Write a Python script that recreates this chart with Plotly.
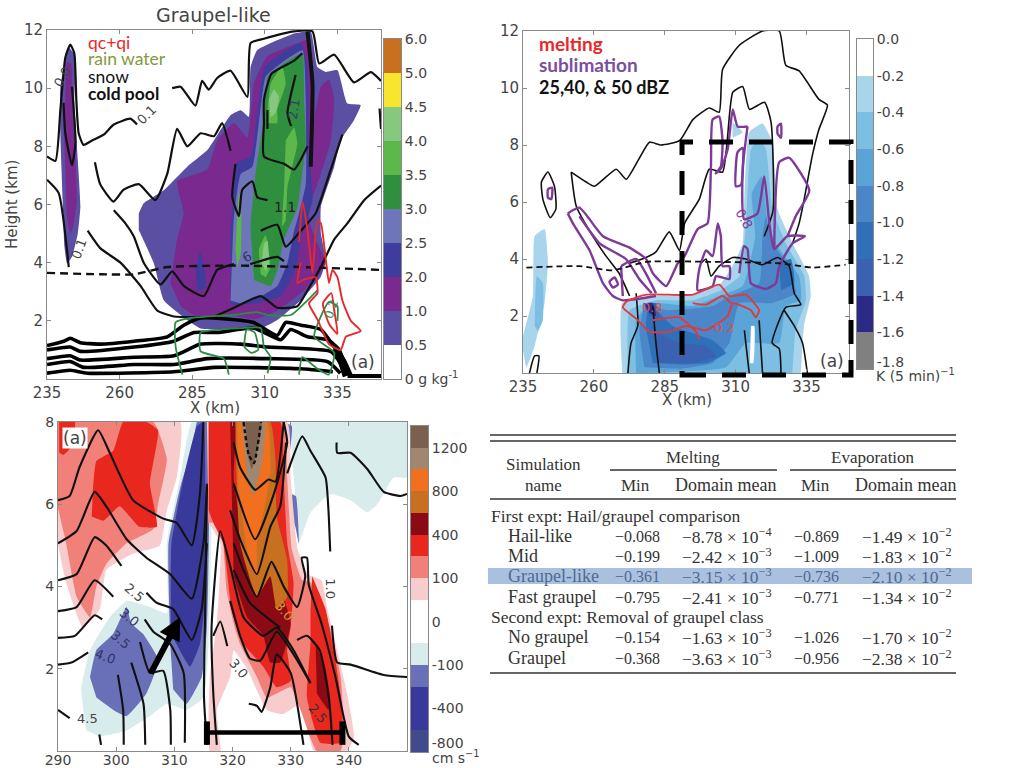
import plotly.graph_objects as go

# ---------- Panel A (X km, height km) ----------
a_col_05 = [(242.5,11.42),(244.8,11.08),(244.4,9.59),(245.6,7.53),(246.5,5.92),(245.6,5.0),(243.6,4.2),(241.9,3.97),(241,4.55),(240.4,6.15),(239.6,8.44),(239.6,10.05),(241.3,10.96)]
a_col_10 = [(241.3,9.59),(241.9,10.9),(243.3,10.85),(243.6,9.59),(244.8,7.53),(245.3,6.15),(244,5.23),(243,5.0),(241.9,5.58),(241.3,7.3),(240.7,8.67)]
a_main_05 = [(266.6,5.69),(268.3,6.04),(275.2,6.49),(283.3,7.3),(290.2,7.87),(298.2,9.07),(301.7,9.24),(304.5,9.02),(305.1,10.73),(307.4,11.31),(320.1,11.88),(325.8,11.94),(328.1,10.73),(331,10.56),(335,10.62),(338.4,9.47),(343,9.42),(340.7,8.9),(336.1,8.21),(333.9,7.3),(329.3,5.92),(329.3,5.0),(331,4.09),(329.3,3.52),(322.4,2.71),(314.3,2.03),(308.6,1.74),(287.9,1.74),(283.3,2.03),(275.2,2.71),(271.8,3.97),(266.6,5.12)]
a_main_10 = [(277.5,3.3),(279.8,4.8),(282.1,5.7),(279.8,6.8),(290.2,7.2),(293.6,8.2),(299.4,8.8),(304,8.3),(306.3,10.2),(310.9,11.1),(320.1,11.5),(324.7,11.65),(325.8,10.7),(326.4,8.7),(329.3,10.05),(332.1,10.3),(333.9,9.6),(332.7,8.2),(329.3,7.05),(325.8,6.05),(325.2,5.45),(327.5,4.8),(331,4),(328.1,3.5),(322.4,2.95),(314.3,2.35),(306.3,2.05),(298.2,2.2),(287.9,2.05),(281,2.5)]
a_blob_20 = [(286.2,3.8),(287.7,4.4),(289.3,3.75),(289.7,3.15),(286.8,3)]
a_main_20 = [(298.2,2.55),(298.2,5),(299.4,6.6),(299.9,7.4),(305.1,7.65),(309.7,10.7),(314.3,11.1),(322.4,11.55),(324.7,10.75),(325.2,7.85),(326.4,6.15),(322.9,5),(320.1,3.65),(315.5,2.85),(307.4,2.6)]
a_main_25 = [(298.2,2.7),(299.4,5.6),(301.7,7.05),(305.7,7.3),(310.3,10.4),(315.5,10.85),(323,11.3),(324.1,9.6),(324.1,6.7),(321.8,5.7),(320.1,5.1),(317.8,4),(314.3,3.2),(308.6,2.85),(301.7,2.6)]
a_main_30 = [(305.7,4.3),(305.1,5.25),(306.8,7.05),(309.7,9),(310.9,10.4),(316.6,10.85),(322.9,11.2),(323.5,9.6),(324.1,8.2),(321.2,5.9),(316.6,4.8),(314.3,3.75),(312,3.2),(306.3,3.4)]
a_g35_1 = [(310.9,9.15),(312,10.15),(316,10.75),(317.2,10.15),(314.3,9.25),(314.3,8.8),(310.9,8.8)]
a_g35_2 = [(317.2,8.2),(320.1,8.65),(321.2,8.1),(317.8,6.6),(317.2,5.45),(316,5.25),(316.6,6.5)]
a_g35_3 = [(308.6,3.6),(308,4.45),(310.3,4.95),(311.4,4.3),(312,3.85),(310.3,3.5)]
a_g35_4 = [(299.9,4.45),(301.1,6.4),(301.9,5.6),(301.7,4.3),(300.5,3.85)]
a_g40_1 = [(311.4,9.6),(313.1,9.95),(314.9,9.7),(313.7,9.15),(312,9)]
a_g40_2 = [(309,4),(309.7,4.65),(310.9,4.75),(311.4,4),(310.3,3.7)]

a_snow = [
 [(235,7.65),(237.9,7.5),(239.6,9.25),(241.3,11.05),(243,11.5),(244.4,11.2),(245.1,9.6),(245.9,8.45),(247.6,8.05),(250.5,8.2),(254.5,8.4),(258,8.75),(263.7,8.95),(266,8.75)],
 [(278.1,10),(281,10.05),(286.1,9.4),(288.4,10.25),(290.7,9.95),(293.6,10.35),(298.2,10.6),(304,9.7),(305.1,11.55),(309.7,11.7),(320.1,11.95),(326.4,11.95),(328.7,10.85),(333.9,11.15),(340.7,10.2),(346.5,10.55),(350,10.25)],
 [(235,6.85),(239,6.4),(242.5,3.85)],
 [(249,5.1),(253.3,4.5),(260.3,4),(267.2,3.2),(273,2.35),(278.7,2.15),(292.5,2.15),(299.4,2.45),(308.6,2.85),(314.3,2.45),(321.2,2.5),(324.7,3.05),(329.3,3.85),(333.9,4.8),(338.4,5.35),(344.2,6.15),(350,6.65)],
 [(251.5,7.45),(253.3,6.7),(257.9,6.1),(261.3,6.5),(266.6,6.7),(272.3,6.15),(276.4,7.05),(279.8,8.6),(283.3,8),(287.9,8.45),(292.5,8.35),(295.3,8.8),(298.2,7.85)],
 [(336.7,8.4),(332.7,7.2),(327.5,5.7),(322.4,5.1),(317.2,4.55),(314.3,5.3),(308.6,5.1)],
 [(258,5.8),(262,5.35),(264.9,4.9),(268.3,4),(274.1,3.25),(278.1,3.7),(282.1,3.2),(289,2.85),(293.6,3.75),(299.4,3.95)],
 [(305,3.95),(314.3,4.2),(316.6,4.05)],
 [(299.9,7.4),(298.8,6.25),(301.1,5.6),(302.2,6.5),(305.7,6.8),(307.4,6.25),(310.9,6.15)],
 [(322.9,11.2),(320.1,10.95),(312.3,10.5),(309.7,9.6),(309.7,8.8),(309.7,7.65),(316.6,7.4),(320.1,7.2),(324.7,8)],
 [(320.6,10.45),(317.8,9.15),(319,8.7)],
 [(310.9,9.25),(310.9,8.6)],
 [(240.7,9.5),(241.3,8.45),(243.6,7.35),(244.8,8.1),(243.6,10.05)],
 [(349.5,9.3),(350,8.6)],
]
a_core_edge = [(324.7,11.95),(326.4,10.15),(325.8,7.3)]
a_pool = [
 [(235,1.15),(240.8,1.3),(243,1.4),(246.5,1.25),(253.4,1.2),(265,1.3),(276.4,1.45),(282.1,1.85),(287.9,2.1),(305.9,1.95),(314.3,1.5),(317.2,1.95),(322.4,1.85),(329.3,1.7),(333.9,1.1),(337.3,0.65),(339.6,0.15)],
 [(235,1),(243,1.1),(246.5,0.95),(265,1.1),(278.7,1.3),(285.6,1.6),(293.6,1.6),(306.3,1.75),(315.5,1.35),(318.9,1.7),(324.7,1.45),(331.6,1.35),(335.6,1),(338.4,0.2)],
 [(235,0.7),(243,0.8),(246.5,0.65),(265,0.75),(278.7,0.8),(287.9,1.2),(301.7,1.2),(310.9,1.1),(322.4,1.05),(332.7,0.95),(336,0.55),(337.3,0.15)],
 [(235,0.5),(243,0.6),(247.6,0.4),(265,0.5),(278.7,0.5),(290.2,0.7),(310.9,0.7),(331.6,0.6),(336,0.2)],
 [(235,0.2),(243,0.3),(248.8,0.2),(278.7,0.25),(292.5,0.4),(322.4,0.35),(333.4,0.25)],
]
a_pool_front = [(334.2,1.05),(336.5,0.6),(338.2,0.1)]
a_pool_floor = [(338.5,0.1),(350,0.1)]
a_dash = [(235,3.65),(253.4,3.6),(265,3.6),(276.4,3.85),(299.4,3.9),(322.4,3.85),(350,3.75)]
a_rain = [
 [(281.6,0.15),(279.3,1.1),(279.3,1.95),(284.5,2.1),(290.2,2.15),(299.4,2.2),(307.4,2.3),(310.9,2.2),(319,2.2),(323.6,2.6),(328.1,3.05)],
 [(297.6,0.15),(295.9,0.7),(287.9,0.95),(287.9,1.6),(294.8,1.7),(301.7,1.75),(308.6,1.75),(309.7,1.1),(312,0.75),(310.9,0.2)],
 [(303,1.1),(305.4,0.9),(307.7,1),(306.5,1.6),(303.8,1.7),(303,1.1)],
 [(321.8,0.15),(322.9,0.75),(328.1,0.35),(332,0.15),(333.9,0.9),(327,1.45),(329.3,2.15),(332.1,2.65),(335,2.5),(335,2)],
]
a_cloud = [
 [(321.8,4.7),(323,6.1),(324.7,5.1),(326.4,3.65),(328.1,5.45),(329.3,5.35),(331,4.1),(332.1,3.3),(333.3,3.75),(335,3.5),(336.7,2.7),(339.6,2),(343,1.65),(337.9,1.45),(336.1,1),(332.1,1.2),(328.1,2.05),(325.2,2.6),(328.1,2.95),(327.5,3.5),(323,3.4),(321.2,3.3),(322.4,4)],
 [(330,2.6),(332.9,2.95),(333.9,2.35),(335,1.55),(332.1,1.9),(330,2.6)],
]
a_levels = ["#ffffff","#5a4fa2","#7a2a8e","#3e3d9e","#6f75b9","#2f8f3e","#5cb84a","#86c87e","#f8e62e","#c8701f"]
a_cbar_ticks = ["0 g kg<sup>-1</sup>","0.5","1.0","2.0","2.5","3.0","3.5","4.0","4.5","5.0","6.0"]
a_xticks = [235,260,285,310,335]
a_yticks = [2,4,6,8,10,12]

# ---------- Panel B ----------
b_left_02 = [(235,1.3),(238.5,2.7),(239.1,4.8),(242.6,5.05),(243.8,3.85),(242.6,2.45),(239.1,0.95),(236.2,0.2),(235,0.8)]
b_left_04 = [(239.1,1.65),(239.9,3.4),(242,3.15),(242,1.85),(240.3,1.45)]
b_top_02 = [(308.9,8.8),(312.5,8.45),(308.9,8.25)]
b_main_02 = [(270,0),(270,2.45),(280.8,2.7),(294.9,2.75),(304.8,3.15),(308.9,3.75),(312.5,4.55),(313.1,6.2),(314.8,8.45),(319.5,8.75),(323,8.1),(324.8,5.75),(330.1,4.55),(335.9,3.4),(336.5,2.7),(334.1,1.65),(333,0)]
b_main_04 = [(272,0),(272.6,2.2),(281.9,2.55),(294.9,2.55),(304.8,2.9),(311.4,3.4),(313.6,5.15),(315.4,7.85),(318.3,8.2),(320.7,7.85),(323,5.75),(327.7,4.55),(334.2,3.4),(334.8,2.55),(331.2,1.5),(330,0)]
b_main_06 = [(274.9,0),(274.9,1.85),(279.6,2.45),(294.9,2.35),(304.2,2.7),(312.5,3.05),(316.9,4.8),(315.7,6.3),(319.2,6.9),(321.5,5.15),(325.4,4.35),(332.4,3.4),(333,2.55),(327.7,2.35),(325.4,1.05),(313.6,1.05),(306.6,0.2),(278.4,0)]
b_main_08 = [(277.8,0.2),(276.1,1.5),(278.4,2.45),(285.5,2.2),(301.9,2.35),(307.8,2.7),(318.3,3.15),(319.5,4.8),(320.7,5.5),(323,4.55),(328.9,3.75),(331.2,2.8),(322.4,2.45),(311.3,2.45),(307.8,1.05),(301.9,0.35),(290.8,0.15)]
b_main_10 = [(280.8,0.35),(278.4,1.65),(279.6,2.4),(287.8,1.65),(301.9,1.15),(306.6,0.7),(300,0.35),(290.8,0.3)]
b_right_10 = [(325.4,3.85),(329.5,4),(330.7,3.15),(326,2.9)]
b_main_12 = [(283.1,0.35),(281.9,1.4),(290.2,1.05),(299.6,0.95),(303.1,0.6),(294.9,0.35)]
b_peak_12 = [(277.3,2.45),(281.9,2.45),(283.1,1.85),(279.6,2)]
b_peak_14 = [(277.8,2.45),(280.8,2.45),(281.9,2),(279.6,2.1)]
b_slit = [(315.4,1.65),(316.6,1.65),(316.2,0.35),(315,0.35)]
b_dbz = [
 [(243.8,7.05),(241.5,6.7),(242,6.1),(244.6,5.45),(246.6,5.75),(246.1,6.55),(243.8,7.05)],
 [(252,7.05),(253.8,5.85),(259.6,4.8),(264.3,4.1),(268.9,3.5),(272.6,2.7)],
 [(252,7.05),(257.3,6.7),(260.2,6.55),(267.9,7.15),(271.4,6.8),(276.1,7.55),(279.6,8.1),(283.7,8),(290.2,8.15),(295,8.9),(300.7,9.3),(304.2,9.15),(305.4,10.65),(311.3,11.5),(319.5,12),(325.4,12),(327.7,10.8),(332.4,10.6),(339.4,9.6),(342.4,9.4),(339.4,8.55),(337,7.6),(334.2,6.1),(332.4,5.25),(330.1,4.55)],
 [(272.6,3.85),(278.4,4.05),(281.9,4.25),(286.6,4.95),(290.2,4.3),(292,5.25),(297.2,6.1),(300.7,7.15),(305.4,7.05),(309,9.85),(312.5,10.05),(314.9,9.25),(320.2,9.5),(322.5,8.8),(323.2,5.7),(320.1,4.8)],
 [(297.8,3.85),(299.6,4),(301.3,3.4),(304.2,3.75),(309,4.05),(313.6,4),(319.5,3.8),(324.8,4.05),(328.9,3.75),(330.7,2.8),(333,2.4),(327.7,2.3),(322.9,1.05),(325.4,0.85),(326,0)],
 [(280.8,2.35),(281.9,1.05),(283.1,0)],
 [(274.9,2.8),(275.5,1.65),(273.1,1.05),(272,0)],
 [(313.1,1.5),(313.6,1.05),(314.8,0)],
 [(318.3,1.85),(319.5,0)],
 [(327.1,2.2),(330.7,1.65),(333.6,1.05),(335.3,0)],
 [(237.3,0),(239.1,0.6),(240.6,0.6),(239.9,0)],
]
b_sub = [
 [(250.8,5.6),(254.9,5.8),(263.2,4.8),(272.6,4.4),(278.4,4),(280.8,3.5),(285.5,3.05),(289.6,3.85),(292,4.1),(296.6,5.05),(300.1,5.25),(301.3,7.25),(301.9,8.9),(304.2,9),(305.4,8.1),(304.8,7.25),(303,7),(305,7.2),(307.2,7.85),(309,9.25),(310.7,8.65),(314.2,8.65)],
 [(250.8,5.6),(252.6,5.25),(258.5,4.3),(263.2,3.15),(266.7,2.7),(270.2,2.55),(281.9,2.7)],
 [(254.9,5.5),(262,4.55),(271.3,4),(276,3.3),(280.4,2.8)],
 [(269.6,3.75),(270.2,2.7)],
 [(269.6,3.75),(274.9,4),(281.9,2.8)],
 [(265.5,3.2),(267.3,3.35),(268.5,3.1),(266.7,3),(265.5,3.2)],
 [(296.6,2.9),(297.2,3.65),(299.6,4.3),(301.9,4.1),(303.7,5.25),(304.8,4.8),(305.4,3.75),(307.8,3.75),(307.8,3.3),(303.1,3.4),(301.9,3.05),(296.6,2.9)],
 [(311.3,3.5),(313,4.45),(314.2,4.35),(315.4,3.15),(320.7,2.95),(324.2,3.15),(325.4,3.75),(330.1,4.55),(334.5,4.8),(328.3,4.8),(323.6,4.35),(321.9,5.25),(320.1,6.9),(317.7,5.6),(313,5.4),(312.5,7.15),(314.2,8.65)],
 [(323.6,4.35),(325.4,7.4),(328.9,7.55),(336,6.4),(331.2,5.5),(328.3,4.8)],
 [(310.7,7.75),(312.5,7.9),(311.9,6.6),(310.1,6.55),(310.7,7.75)],
 [(324.8,8.65),(326,8.75),(326,8.25),(324.8,8.4),(324.8,8.65)],
 [(243.8,6.45),(245.3,6.5),(245,6.1),(243.8,6.15),(243.8,6.45)],
]
b_melt = [
 [(270.2,2.3),(271.4,2.5),(278.4,2.75),(294.9,2.75),(304.2,3.1),(307.8,2.7),(313.6,2.75),(318.3,2.2),(317.1,1.95),(315.4,2.2),(309,2.45),(307.2,2),(299.5,1.5),(292.5,1.65),(286.6,1.45),(279.6,1.45),(275,1.9),(270.2,2.3)],
 [(280.8,1.85),(290.2,1.95),(296,1.45),(297.2,1.2)],
 [(294.9,2.45),(299.6,2.4),(305.4,2.7),(308.3,2.45)],
]
b_dash = [(236.2,3.7),(254.9,3.75),(266.7,3.6),(278.4,3.9),(301.9,3.9),(325.4,3.85),(337.1,3.7),(348.8,3.8)]
b_levels = ["#808080","#2b2a86","#3a62b0","#2f70b8","#4a86c8","#5ba4d8","#7cbfe3","#a8d5ec","#ffffff"]
b_cbar_ticks = ["-1.8","-1.6","-1.4","-1.2","-1.0","-0.8","-0.6","-0.4","-0.2","0.0"]

# ---------- Panel C ----------
c_teal_1 = [(330,8),(350,8),(350,6.65),(347.7,6.65),(344.9,6),(343.2,5.8),(340.3,6.1),(336.8,6.25),(333.4,5.8),(331.4,5.05),(330.8,6.2),(330.2,7.15)]
c_teal_2 = [(294.9,0.5),(294,1.5),(295.5,2.45),(298.9,3.25),(301.8,3.65),(305.8,3.5),(308.7,3.35),(308.7,5.05),(311,6.65),(313,8),(315.9,8),(315.9,2.6),(315,1.3),(312.1,1),(308.7,1.15),(305.8,0.85),(301.8,0.5),(297.2,0.35)]
c_blue_1 = [(295.5,1.8),(296.6,2.45),(299.5,2.85),(301.8,3.5),(302.6,3.1),(304.6,2.85),(307,2.3),(307,2.05),(305.2,1.4),(301.8,0.85),(299.5,1),(296.6,1.3)]
c_blue_2 = [(309.3,2.6),(309,5.05),(311,6.4),(313.3,7.5),(313.9,8),(315.6,8),(315.6,3),(314.7,1.8),(312.1,1.15),(309.8,1.5)]
c_blue_3 = [(330,6.25),(330.9,6.2),(331.4,5.05),(330.8,5.45),(329.8,5.85)]
c_blue_4 = [(328.8,8),(330.2,7.9),(329.4,6.85),(328.7,7.45)]
c_dark_1 = [(309.4,3),(309.5,5.05),(311.6,6.65),(313.9,7.9),(315,8),(315.1,3.45),(314.4,2.6),(312.7,2.05),(310,2.7)]
c_pink_1 = [(290,6.2),(290,5.05),(291.4,4.1),(294.3,3),(297.2,3.45),(298.3,4.4),(302.9,4.8),(307.5,5),(308.7,5.85),(310.4,6.65),(311,8),(290,8)]
c_rose_1 = [(290,8),(306.4,8),(308.7,7.1),(307.2,6),(306.4,5.4),(301.8,5.05),(298.3,4.55),(296.6,4),(295.5,3.25),(293.2,3.75),(291.4,5.05),(290,5.9)]
c_red_1 = [(290.2,8),(292.9,8),(292.3,7.4),(290.9,7.2),(290.2,7.25)]
c_red_2 = [(295.8,5.7),(297.8,5.6),(300.6,5.95),(304,5.45),(307,5.45),(305.8,6.5),(307.2,7.8),(305.2,8),(301.2,8),(299.5,7.3),(296.6,7.05),(296,6.35)]
c_pink_2 = [(315.6,8),(329.4,8),(330,6.65),(331.2,4.9),(333,4.3),(335.3,4.15),(336.3,3.45),(338,2.45),(339.7,1.4),(340.9,0.35),(339.7,0),(334,0),(331.7,1.15),(328.7,0.9),(325.9,1),(322.5,2),(320.2,2.45),(319.6,1.8),(317.3,1),(317.9,0),(316.1,0),(316.1,1.8),(317.3,3.1),(317.9,5.05),(315.9,5.55)]
c_rose_2 = [(315.9,8),(328.8,8),(329.4,6.65),(330.2,4.9),(332,4.15),(333.4,4.1),(336.8,3),(338.6,1.8),(339.1,0.6),(338.6,0),(334.5,0),(331.7,1),(330,1.55),(325.9,1.3),(324.2,1.8),(321.3,2.6),(320.2,3.1),(319,3.9),(317.9,5.55),(315.9,5.55)]
c_red_3 = [(315.9,8),(328.2,8),(328.8,6.65),(329.4,5.05),(330.5,4.1),(330,3),(329.4,2.45),(330,1.7),(327.6,1.55),(325.3,2.05),(321.9,2.6),(319.9,3.4),(318.4,5.05),(316.7,5.55),(315.9,5.85)]
c_red_4 = [(333.7,4.25),(336,3.45),(337.7,2.2),(338.9,1),(338.6,0.2),(335.1,0.2),(332.8,1.3),(333.4,2.6),(333.4,3.4)]
c_maroon_1 = [(319.6,8),(320.5,8),(320.2,6.65),(321.3,5.7),(324.8,5.05),(326.5,5.05),(328.8,3.75),(330,3.1),(329,2.45),(328.2,2.15),(326.5,2.15),(325.3,2.8),(322.5,3.25),(320.2,4.25)]
c_maroon_2 = [(334.3,2.6),(336,2),(336.8,1.25),(336.5,1),(334.5,1.4)]
c_orange_d = [(320.5,8),(326.5,8),(327.4,7.05),(327.6,5.7),(329.4,4.65),(329.4,3.75),(327.6,3.45),(326.5,4.25),(324.2,3.75),(321.3,5.05),(320.7,6.65)]
c_orange = [(320.8,8),(326,8),(326.5,6.85),(325.9,6.2),(324.2,5.05),(324.2,4.25),(322.5,4.9),(321,6.5)]
c_tan = [(321.6,8),(325.6,8),(325.1,7.05),(323.6,6.2),(322.5,6.65)]
c_brown = [(322.2,8),(325,8),(324.2,7.25),(323.3,6.85),(322.5,7.25)]
c_lines = [
 [(290,6.1),(292,6.2),(293.7,6.9),(296.9,7.8),(298.9,7.25),(302.9,6.1),(308.1,5.65),(310.4,5.55),(313,5),(314.4,6.25),(315,8)],
 [(290,5.05),(293.2,5.35),(296.3,6.3),(298.3,5.95),(301.8,5.15),(305.2,4.7),(309.3,4.3),(313,3.7),(315,5.05),(315.6,6.45)],
 [(290,4.15),(293.2,4.3),(296.3,5.2),(298.3,5),(300.9,4.5)],
 [(305.2,3.85),(307,3.6),(309.8,3.45),(313,2.7),(314.7,3.45),(315.6,5.05)],
 [(290,3.4),(293.2,3.5),(296.3,4.15),(299.5,3.75)],
 [(290,2.75),(292.9,2.8),(296.3,3.3),(297.6,3.2)],
 [(304.9,3.2),(306.4,2.9),(309.3,2.6),(311.6,1.9),(311.8,0.2)],
 [(290,2.1),(292.3,2.15),(295.2,2.4)],
 [(304.1,2.65),(305.8,1.9),(308.1,1.95),(309.3,1),(309.4,0.15)],
 [(290,1),(292,0.8)],
 [(302.6,2.15),(304.7,1.15),(305,0.15)],
 [(300.3,1.85),(301.2,1),(301.3,0.15)],
 [(297.1,0.4),(297.4,0.15)],
 [(315.6,6.5),(315.3,3.45),(315.1,1.3),(315.6,0.15)],
 [(317.3,0.15),(316.7,1.4),(316.4,3),(317.9,5.35),(319.6,4.5),(321.9,3.25),(325.3,2.8),(327.6,3),(330.5,2.45),(333.4,1.65)],
 [(316.7,2.8),(317.9,3.15),(319.1,2.55)],
 [(322.8,1.15),(324.2,1.1),(325,0.95),(326.5,1.55),(327.6,2.35),(330,1.9),(332.2,0.15)],
 [(320.2,7.5),(321.3,6.9),(323.9,6.35),(326.2,6.6),(327.4,6.55),(328.8,8)],
 [(320.2,6.5),(323.9,5.15),(327.1,6.25),(329.4,7.5),(328.8,8)],
 [(319.6,5.85),(321.3,5.15),(324.2,4.3),(326.5,5.45),(328.2,5.95),(329.2,7.5)],
 [(320.2,5.05),(321.9,4.4),(324.2,3.75),(326.7,4.6),(328.8,4),(331.1,3.5),(332.5,4.25),(331.9,4.7),(332.8,4.7),(333.1,4.05),(335.3,3.1),(337.7,1.8),(340,0.35),(341.7,0.15)],
 [(320.2,4.4),(323,3.6),(325.9,3.25),(328.2,3)],
 [(319.6,3.65),(321.3,2.8),(323,2.25),(324.8,2.2),(327.6,2.9),(330.5,2.35),(333.4,1.65)],
 [(329.4,6.75),(332,7.65),(333.4,7.3),(336,6.65),(336.5,5.85),(336.8,4.85)],
 [(337.9,7.5),(338,7.25),(340.3,7.25),(343.2,6.85),(346,6.3),(348.9,6.2),(350,6.25)],
 [(337.1,3.05),(338,2.15),(340.3,2.1),(346,1.85),(350,1.8)],
 [(331.1,2.7),(332.8,2.8),(335,2.45),(336.6,1.25),(337.2,0.15)],
]
c_dotted = [[(321.9,8),(322.8,7.2),(323.7,7),(324.9,8)]]
c_bar = [(315.6,0.45),(338.9,0.45)]
c_caps = [[(315.6,0.15),(315.6,0.72)],[(338.9,0.15),(338.9,0.72)]]
c_arrow = [(305.8,1.85),(311,3.25)]
c_levels = ["#404a8c","#39399c","#39399c","#6a70b8","#d8ecec","#ffffff","#ffffff","#f8cccc","#f08078","#e8281e","#8b0a14","#c87020","#f07020","#a08870","#7b6050"]
c_cbar_vals = [0.4,2,4,6,8,10,12,14]
c_cbar_ticks = ["-800","-400","-100","0","100","400","800","1200"]
c_xticks = [290,300,310,320,330,340]
c_yticks = [2,4,6,8]

# ---------- Table ----------
t_names = ["Hail-like","Mid","Graupel-like","Fast graupel","No graupel","Graupel"]
t_melt_min = ["−0.068","−0.199","−0.361","−0.795","−0.154","−0.368"]
t_melt_mean = ["−8.78 × 10<sup>−4</sup>","−2.42 × 10<sup>−3</sup>","−3.15 × 10<sup>−3</sup>","−2.41 × 10<sup>−3</sup>","−1.63 × 10<sup>−3</sup>","−3.63 × 10<sup>−3</sup>"]
t_evap_min = ["−0.869","−1.009","−0.736","−0.771","−1.026","−0.956"]
t_evap_mean = ["−1.49 × 10<sup>−2</sup>","−1.83 × 10<sup>−2</sup>","−2.10 × 10<sup>−2</sup>","−1.34 × 10<sup>−2</sup>","−1.70 × 10<sup>−2</sup>","−2.38 × 10<sup>−2</sup>"]
t_row_px = [536,556,576,597,637,658]

W, H = 1024, 768
TICK = "#444444"
FRAME = "#8a8a8a"
MPL = "DejaVu Sans"
fig = go.Figure()

def px_x(p): return p / W
def px_y(p): return 1 - p / H

def poly(pts, color, ax):
    fig.add_trace(go.Scatter(x=[p[0] for p in pts], y=[p[1] for p in pts], mode="lines", fill="toself",
        fillcolor=color, line=dict(width=0, color=color, shape="spline", smoothing=0.4),
        hoverinfo="skip", showlegend=False, xaxis="x"+ax, yaxis="y"+ax))

def line(pts, color, width, ax, dash=None, smoothing=0.5):
    fig.add_trace(go.Scatter(x=[p[0] for p in pts], y=[p[1] for p in pts], mode="lines",
        line=dict(width=width, color=color, shape="spline", smoothing=smoothing, dash=dash),
        hoverinfo="skip", showlegend=False, xaxis="x"+ax, yaxis="y"+ax))

# Panel A marks
L = a_levels
for pts, c in [(a_col_05,L[1]),(a_col_10,L[2]),(a_main_05,L[1]),(a_main_10,L[2]),(a_blob_20,L[3]),(a_main_20,L[3]),
               (a_main_25,L[4]),(a_main_30,L[5]),(a_g35_1,L[6]),(a_g35_2,L[6]),(a_g35_3,L[6]),(a_g35_4,L[6]),(a_g40_1,L[7]),(a_g40_2,L[7])]:
    poly(pts, c, "")
for s in a_snow: line(s, "#111111", 2.2, "")
line(a_core_edge, "#111111", 4, "")
for s in a_pool: line(s, "#000000", 3.6, "")
line(a_pool_front, "#000000", 8, "")
line(a_pool_floor, "#000000", 4, "", smoothing=0)
line(a_dash, "#111111", 2.4, "", dash="8px,5px")
for s in a_rain: line(s, "#2e8b45", 1.8, "")
for s in a_cloud: line(s, "#e8282a", 1.9, "")

# Panel B marks
B = b_levels[::-1]
for pts, c in [(b_left_02,B[1]),(b_left_04,B[2]),(b_top_02,B[1]),(b_main_02,B[1]),(b_main_04,B[2]),(b_main_06,B[3]),(b_main_08,B[4]),
               (b_main_10,B[5]),(b_right_10,B[5]),(b_main_12,B[6]),(b_peak_12,B[6]),(b_peak_14,B[7]),(b_slit,"#ffffff")]:
    poly(pts, c, "2")
for s in b_dbz: line(s, "#111111", 1.6, "2")
for s in b_sub: line(s, "#7e3a96", 2.4, "2")
for s in b_melt: line(s, "#e0393e", 1.9, "2")
line(b_dash, "#111111", 1.8, "2", dash="6px,4px")

# Panel C marks
C = c_levels
for pts, c in [(c_teal_1,C[4]),(c_teal_2,C[4]),(c_blue_1,C[3]),(c_blue_2,C[3]),(c_blue_3,C[3]),(c_blue_4,C[3]),(c_dark_1,C[1]),
               (c_pink_1,C[7]),(c_rose_1,C[8]),(c_red_1,C[9]),(c_red_2,C[9]),(c_pink_2,C[7]),(c_rose_2,C[8]),(c_red_3,C[9]),(c_red_4,C[9]),
               (c_maroon_1,C[10]),(c_maroon_2,C[10]),(c_orange_d,C[11]),(c_orange,C[12]),(c_tan,C[13]),(c_brown,C[14])]:
    poly(pts, c, "3")
for s in c_lines: line(s, "#111111", 2.1, "3")
for s in c_dotted: line(s, "#111111", 2.4, "3", dash="4px,3px")
line(c_bar, "#000000", 4.5, "3", smoothing=0)
for s in c_caps: line(s, "#000000", 6, "3", smoothing=0)

# Colour bars
for levels, ax in [(a_levels,"4"),(b_levels,"5"),(c_levels,"6")]:
    fig.add_trace(go.Bar(x=[0]*len(levels), y=[1]*len(levels), base=list(range(len(levels))), width=1,
        marker=dict(color=levels, line=dict(width=0)), hoverinfo="skip", showlegend=False, xaxis="x"+ax, yaxis="y"+ax))

def main_axes(xpx, ypx, xr, yr, xt, yt, ysz=15):
    common = dict(showgrid=False, zeroline=False, showline=True, linecolor=FRAME, linewidth=1, mirror="ticks", automargin=False,
                  ticks="inside", ticklen=4, tickcolor=FRAME, tickfont=dict(family=MPL, size=ysz, color=TICK))
    return (dict(domain=[px_x(xpx[0]),px_x(xpx[1])], range=xr, tickvals=xt, ticktext=[str(v) for v in xt], **common),
            dict(domain=[px_y(ypx[1]),px_y(ypx[0])], range=yr, tickvals=yt, ticktext=[str(v) for v in yt], **common))

def cbar_axes(xpx, ypx, n, tv, tt):
    xa = dict(domain=[px_x(xpx[0]),px_x(xpx[1])], range=[-0.5,0.5], showticklabels=False, ticks="", showgrid=False, automargin=False,
              zeroline=False, showline=True, linecolor=FRAME, mirror=True)
    ya = dict(domain=[px_y(ypx[1]),px_y(ypx[0])], range=[0,n], side="right", tickvals=tv, ticktext=tt, ticks="", showgrid=False, automargin=False,
              zeroline=False, showline=True, linecolor=FRAME, mirror=True, tickfont=dict(family=MPL, size=14, color=TICK))
    return xa, ya

xa1, ya1 = main_axes((47,381),(30,379),[235,350],[0,12],a_xticks,a_yticks)
xa2, ya2 = main_axes((523,849),(31,373),[235,350],[0,12],a_xticks,a_yticks)
xa3, ya3 = main_axes((58,407),(422,751),[290,350],[0,8],c_xticks,c_yticks,14)
ya1.update(anchor="x"); xa1.update(anchor="y")
ya2.update(anchor="x2"); xa2.update(anchor="y2")
ya3.update(anchor="x3"); xa3.update(anchor="y3", ticklabelstandoff=-4)
xa4, ya4 = cbar_axes((384,401),(39,379),10,list(range(11)),a_cbar_ticks)
xa5, ya5 = cbar_axes((857,873),(39,369),9,[0.18]+list(range(1,10)),b_cbar_ticks)
xa6, ya6 = cbar_axes((411,428),(426,752),15,c_cbar_vals,c_cbar_ticks)
for xa, ya, n in [(xa4,ya4,"4"),(xa5,ya5,"5"),(xa6,ya6,"6")]:
    xa.update(anchor="y"+n); ya.update(anchor="x"+n)

shapes = []
def rule(x0, x1, y, w=1.4):
    shapes.append(dict(type="line", xref="paper", yref="paper", x0=px_x(x0), x1=px_x(x1), y0=px_y(y), y1=px_y(y), line=dict(color="#333333", width=w)))

rule(490,956,435,1.6); rule(490,956,441,1.6); rule(610,777,470); rule(790,956,470); rule(490,956,499,1.6); rule(490,956,673,1.4)
shapes.append(dict(type="rect", xref="paper", yref="paper", x0=px_x(488), x1=px_x(972), y0=px_y(584), y1=px_y(568),
                   fillcolor="#a9c0de", line=dict(width=0), layer="below"))
shapes.append(dict(type="rect", xref="paper", yref="paper", x0=px_x(682), x1=px_x(851), y0=px_y(375), y1=px_y(142),
                   fillcolor="rgba(0,0,0,0)", line=dict(color="#000000", width=5, dash="24px,16px")))

ann = []
def text(x, y, s, size=15, color=TICK, family=MPL, anchor="center", angle=0, bg=None, ref=None, yanchor="middle"):
    d = dict(text=s, showarrow=False, font=dict(size=size, color=color, family=family), xanchor=anchor, yanchor=yanchor, textangle=angle, borderpad=0)
    if bg: d["bgcolor"] = bg
    if ref:
        d.update(x=x, y=y, xref="x"+ref if ref != "1" else "x", yref="y"+ref if ref != "1" else "y")
    else:
        d.update(x=px_x(x), y=px_y(y), xref="paper", yref="paper")
    ann.append(d)

text(213,15,"Graupel-like",19)
text(215,408,"X (km)",15); text(687,400,"X (km)",15)
text(12,205,"Height (km)",15,angle=-90)
text(87,42,"qc+qi",17.5,"#e8282a","Lato","left")
text(87,59,"rain water",17.5,"#7f9a3e","Lato","left")
text(87,76,"snow",17.5,"#111111","Lato","left")
text(87,93,"<b>cold pool</b>",17.5,"#111111","Lato","left")
text(538,44,"<b>melting</b>",19,"#e8282a","Lato","left")
text(538,65,"<b>sublimation</b>",19,"#7a4f9f","Lato","left")
text(538,87,"<b>25,40, &amp; 50 dBZ</b>",18,"#111111","Lato","left")
text(363,362,"(a)",17); text(832,361,"(a)",17)
text(75,438,"(a)",17,bg="#ffffff")
text(875,375,"K (5 min)<sup>−1</sup>",14,anchor="left")
text(431,757,"cm s<sup>−1</sup>",14,anchor="left")

# contour labels (data coordinates)
text(269.4,9.1,"0.1",13,ref="1",angle=-45)
text(246,4.5,"0.1",13,ref="1",angle=-70)
text(240.5,10.4,"0.0",13,ref="1",angle=-60)
text(317,5.9,"1.1",14,"#222222",ref="1")
text(304,4.2,"6",13,"#333366",ref="1",angle=-30)
text(320,9.3,"2.1",13,"#2e3f70",ref="1",angle=-80)
text(333,2.4,"0.2",12,"#2e8b45",ref="1",angle=-70)
text(313.2,5.4,"0.8",13,"#7e3a96",ref="2",angle=60)
text(280.7,2.3,"0.8",13,"#d9534f",ref="2")
text(306,1.6,"0.2",13,"#d9534f",ref="2")
text(303.1,3.85,"2.5",13,ref="3",angle=40)
text(302.3,3.25,"3.0",13,"#333366",ref="3",angle=40)
text(300.7,2.7,"3.5",13,"#333366",ref="3",angle=40)
text(298.1,2.3,"4.0",13,"#333366",ref="3",angle=20)
text(295.1,0.8,"4.5",13,ref="3")
text(336.8,3.95,"1.0",13,ref="3",angle=90)
text(321,2.0,"3.0",13,ref="3",angle=50)
text(334.6,0.9,"2.5",13,"#333333",ref="3",angle=50)
text(329,3.4,"3.0",13,"#c8a030",ref="3",angle=50)

# arrow (data coordinates)
ann.append(dict(x=c_arrow[1][0], y=c_arrow[1][1], ax=c_arrow[0][0], ay=c_arrow[0][1], xref="x3", yref="y3", axref="x3", ayref="y3",
                showarrow=True, arrowhead=2, arrowsize=0.75, arrowwidth=6, arrowcolor="#000000", text=""))

# table text
SERIF = "Liberation Serif"
TC = "#333333"; HC = "#4d6a96"
text(543,464,"Simulation",17,TC,SERIF); text(543,485,"name",17,TC,SERIF)
text(693,457,"Melting",17,TC,SERIF); text(873,457,"Evaporation",17,TC,SERIF)
text(635,485,"Min",17,TC,SERIF); text(725,485,"Domain mean",18,TC,SERIF)
text(815,485,"Min",17,TC,SERIF); text(905,485,"Domain mean",18,TC,SERIF)
text(490,516,"First expt: Hail/graupel comparison",17.5,TC,SERIF,"left")
text(490,617,"Second expt: Removal of graupel class",17.5,TC,SERIF,"left")
for i, y in enumerate(t_row_px):
    c = HC if i == 2 else TC
    text(507,y,t_names[i],18,c,SERIF,"left")
    text(661,y,t_melt_min[i],16,c,SERIF,"right")
    text(773,y,t_melt_mean[i],17.5,c,SERIF,"right")
    text(840,y,t_evap_min[i],16,c,SERIF,"right")
    text(953,y,t_evap_mean[i],17.5,c,SERIF,"right")

fig.update_layout(width=W, height=H, autosize=False, margin=dict(l=0,r=0,t=0,b=0), paper_bgcolor="#ffffff", plot_bgcolor="#ffffff",
    barmode="overlay", bargap=0, showlegend=False, shapes=shapes, annotations=ann,
    xaxis=xa1, yaxis=ya1, xaxis2=xa2, yaxis2=ya2, xaxis3=xa3, yaxis3=ya3,
    xaxis4=xa4, yaxis4=ya4, xaxis5=xa5, yaxis5=ya5, xaxis6=xa6, yaxis6=ya6)
# The page's default 8px body margin would push the 1024x768 figure out of the window.
fig.write_html("out.html", config={"displayModeBar": False}, post_script="document.body.style.margin='0';")
